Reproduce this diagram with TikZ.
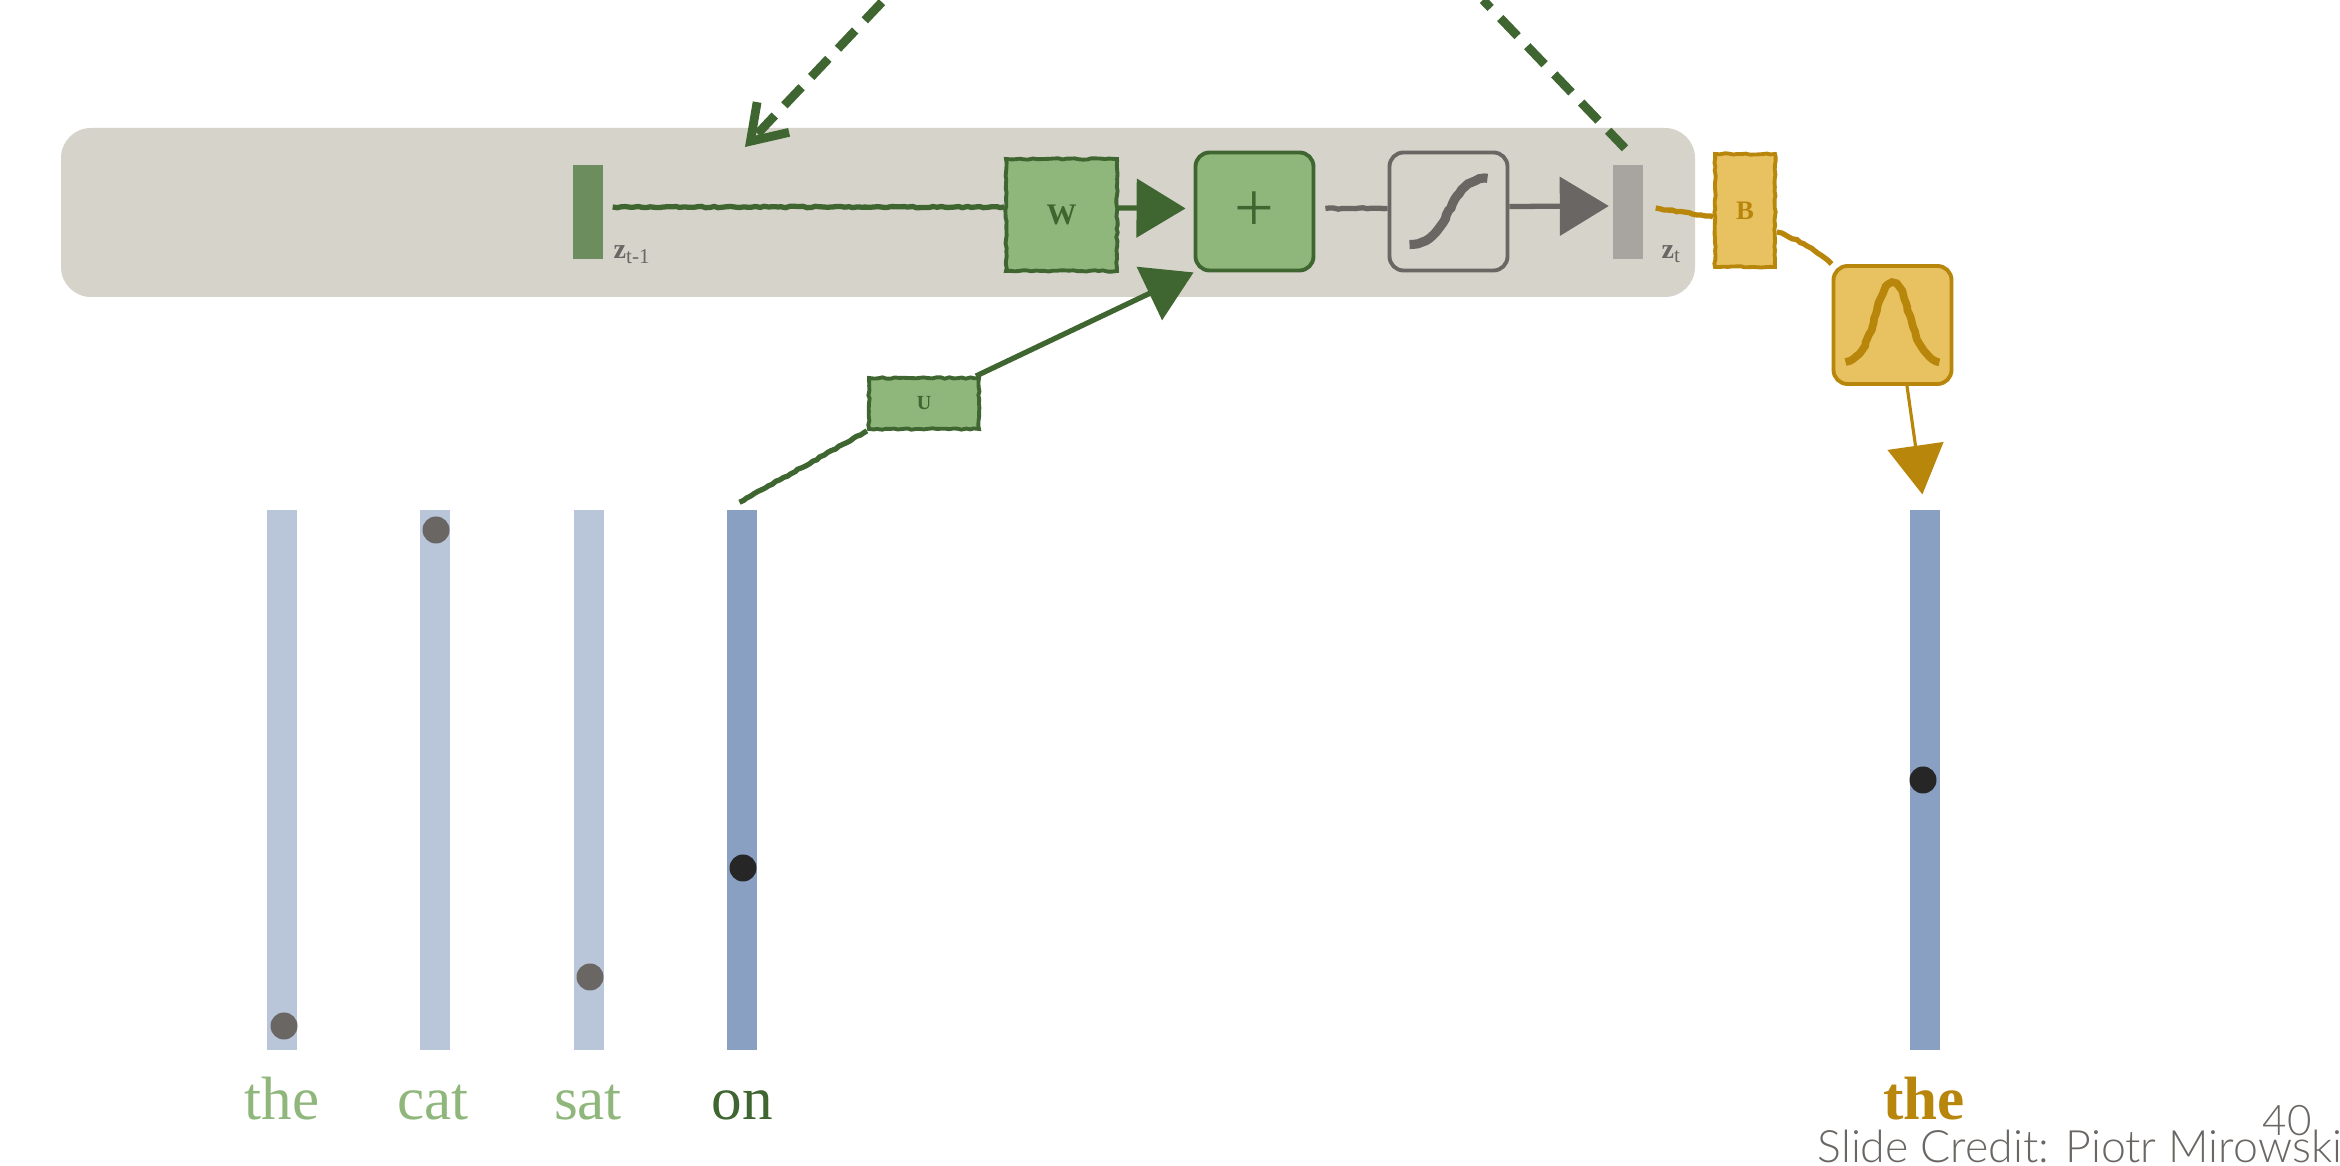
\documentclass[tikz,border=0pt]{standalone}
\usepackage{fontspec}
\setmainfont{Liberation Serif}
\newfontfamily\creditfont{Lato Light}
\usetikzlibrary{arrows.meta,decorations.pathmorphing}
\definecolor{panelc}{HTML}{D6D3CB}
\definecolor{greenc}{HTML}{3F6530}
\definecolor{leafc}{HTML}{8FB77B}
\definecolor{mossc}{HTML}{6C8D5E}
\definecolor{goldc}{HTML}{B8860B}
\definecolor{sandc}{HTML}{E8C260}
\definecolor{grayc}{HTML}{6A6663}
\definecolor{stonec}{HTML}{A8A4A0}
\definecolor{palec}{HTML}{B9C5D9}
\definecolor{bluec}{HTML}{89A0C2}
\tikzset{
  rough/.style={decorate, decoration={random steps, segment length=1.2pt, amplitude=.2pt}},
  box/.style={draw, line width=1.1pt, inner sep=0},
  gbox/.style={box, rough, draw=greenc, fill=leafc, text=greenc},
  ybox/.style={box, rough, draw=goldc, fill=sandc, text=goldc},
  rbox/.style={box, minimum size=1.18cm, rounded corners=.14cm},
  state/.style={inner sep=0, minimum width=.30cm, minimum height=.94cm},
  word/.style={inner sep=0, minimum width=.30cm, minimum height=5.40cm},
  n/.style={inner sep=0, minimum size=.27cm, circle},
  wire/.style={line width=1.5pt},
  head/.style={-{Triangle[length=.49cm, width=.58cm]}},
  dashline/.style={greenc, line width=2.5pt, dash pattern=on .25cm off .14cm},
  lbl/.style={anchor=base, inner sep=0, font=\fontsize{17.4pt}{20pt}\selectfont},
  zlbl/.style={anchor=base west, inner sep=0, text=grayc, font=\fontsize{8pt}{10pt}\selectfont}
}
\begin{document}
\begin{tikzpicture}
    \pgfmathsetseed{7}
    \useasboundingbox (0,0) rectangle (23.4,11.66);

    \node[inner sep=0, minimum width=16.34cm, minimum height=1.69cm, fill=panelc, rounded corners=.3cm](panel) at (8.78, 9.535) {};

    % recurrent row
    \node[state, fill=mossc](zprev) at (5.88, 9.54) {};
    \node[state, fill=stonec](zcur) at (16.28, 9.54) {};
    \node[zlbl](zprevlbl) at (6.13, 9.07) {\textbf{z}\textsubscript{t-1}};
    \node[zlbl](zcurlbl) at (16.61, 9.07) {\textbf{z}\textsubscript{t}};
    \node[gbox, minimum width=1.11cm, minimum height=1.12cm, font=\fontsize{8.5pt}{10pt}\selectfont\bfseries](W) at (10.615, 9.51) {W};
    \node[gbox, minimum width=1.10cm, minimum height=.51cm, font=\fontsize{5.7pt}{7pt}\selectfont\bfseries](U) at (9.24, 7.625) {U};
    \node[rbox, draw=greenc, fill=leafc, text=greenc, font=\fontsize{20pt}{22pt}\selectfont](plus) at (12.545, 9.545) {+};
    \node[rbox, draw=grayc](sig) at (14.485, 9.545) {};
    \node[ybox, minimum width=.60cm, minimum height=1.13cm, font=\fontsize{7.6pt}{9pt}\selectfont\bfseries](B) at (17.45, 9.555) {B};
    \node[rbox, draw=goldc, fill=sandc](gauss) at (18.925, 8.41) {};

    % curves inside the boxes
    \draw[grayc, line width=2.6pt, rough, shift={(sig)}] (-.39,-.33) .. controls (.05,-.33) and (-.05,.33) .. (.39,.33);
    \draw[goldc, line width=2.2pt, rough, shift={(gauss)}] (-.47,-.37) .. controls (-.15,-.3) and (-.18,.42) .. (0,.42)
      .. controls (.18,.42) and (.15,-.3) .. (.47,-.37);

    % word vectors
    \foreach \x/\name/\col in {2.82/the/palec,4.35/cat/palec,5.885/sat/palec,7.415/on/bluec,19.245/out/bluec}
    {
      \node[word, fill=\col](\name) at (\x, 3.86) {};
    }
    \foreach \x/\y/\name/\col in {2.84/1.40/the/grayc,4.36/6.36/cat/grayc,5.90/1.89/sat/grayc,7.43/2.98/on/black!85,19.23/3.86/out/black!85}
    {
      \node[n, fill=\col](d\name) at (\x, \y) {};
    }
    \node[lbl, text=leafc](lthe) at (2.82, .46) {the};
    \node[lbl, text=leafc](lcat) at (4.33, .46) {cat};
    \node[lbl, text=leafc](lsat) at (5.88, .46) {sat};
    \node[lbl, text=greenc](lon) at (7.42, .46) {on};
    \node[lbl, text=goldc, font=\fontsize{17.4pt}{20pt}\selectfont\bfseries](lout) at (19.24, .46) {the};

    % connectors
    \draw[wire, rough, greenc] ([xshift=.09cm, yshift=.05cm]zprev.east) -- ([yshift=.08cm]W.west);
    \draw[wire, greenc, head, shorten >=.08cm] ([yshift=.07cm]W.east) -- ([yshift=.03cm]plus.west);
    \draw[wire, rough, grayc] ([xshift=.10cm, yshift=.03cm]plus.east) -- ([yshift=.03cm]sig.west);
    \draw[wire, grayc, head, shorten >=.035cm] ([yshift=.05cm]sig.east) -- ([yshift=.06cm]zcur.west);
    \draw[wire, rough, greenc] ([xshift=-.02cm, yshift=.07cm]on.north) -- (U.south west);
    \draw[wire, greenc, head] ([xshift=-.05cm]U.north east) -- (plus.south west);
    \draw[wire, rough, goldc] ([xshift=.12cm, yshift=.04cm]zcur.east) -- ([yshift=-.065cm]B.west);
    \draw[wire, rough, goldc] ([yshift=-.215cm]B.east) to[bend left=10] (gauss.north west);
    \draw[goldc, line width=.9pt, shorten >=.15cm, -{Triangle[length=.49cm, width=.56cm]}] ([xshift=.145cm]gauss.south) -- (out.north);

    % dashed feedback
    \coordinate (dashA) at (8.84, 11.66);
    \coordinate (dashB) at (14.83, 11.66);
    \coordinate (tipA) at (7.45, 10.19);
    \draw[dashline, dash phase=.36cm, -{Straight Barb[length=.33cm, width=.44cm]}] (dashA) -- (tipA);
    \draw[dashline, dash phase=.14cm] (dashB) -- ([xshift=-.03cm, yshift=.16cm]zcur.north);

    \node[inner sep=0, anchor=base west, text=grayc, font=\creditfont\fontsize{12.7pt}{14pt}\selectfont](credit) at (18.17, .03) {Slide Credit: Piotr Mirowski};
    \node[inner sep=0, anchor=base west, text=grayc, font=\creditfont\fontsize{12pt}{14pt}\selectfont](pagenum) at (22.62, .30) {40};
\end{tikzpicture}
\end{document}
